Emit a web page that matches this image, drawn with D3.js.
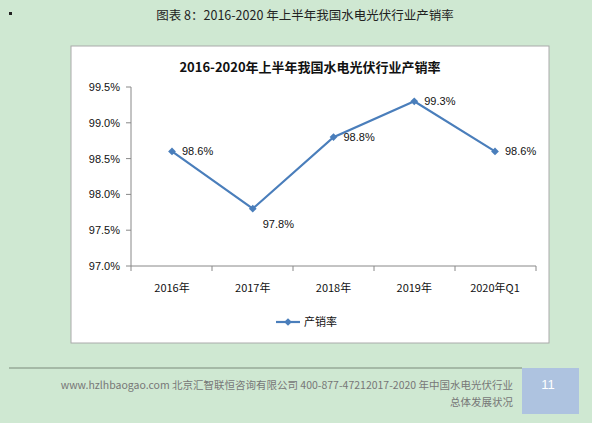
<!DOCTYPE html>
<html lang="zh">
<head>
<meta charset="utf-8">
<script src="https://cdn.jsdelivr.net/npm/d3@7"></script>
<style>
body { margin: 0; background: #cfe8d2; }
svg text { font-family: "Liberation Sans", "Noto Sans CJK SC", sans-serif; }
</style>
</head>
<body>
<script>
// data
var categories = ["2016年", "2017年", "2018年", "2019年", "2020年Q1"];
var rates = [98.6, 97.8, 98.8, 99.3, 98.6];
var yTicks = [97.0, 97.5, 98.0, 98.5, 99.0, 99.5];

var w = 592, h = 423;
var svg = d3.select("body").append("svg").attr("width", w).attr("height", h);
var cjk = "'Noto Sans CJK SC', sans-serif";

// page title
svg.append("rect").attr("x", 9).attr("y", 12).attr("width", 3).attr("height", 3).attr("fill", "#222");
svg.append("text").attr("x", 305).attr("y", 20).attr("text-anchor", "middle")
    .attr("font-size", 12.5).attr("fill", "#222").style("font-family", cjk)
    .text("图表 8：2016-2020 年上半年我国水电光伏行业产销率");

// chart box
svg.append("rect").attr("x", 71).attr("y", 46).attr("width", 478).attr("height", 297)
    .attr("fill", "#fff").attr("stroke", "#aaa");
svg.append("text").attr("x", 310).attr("y", 72).attr("text-anchor", "middle")
    .attr("font-size", 13).attr("font-weight", "bold").attr("fill", "#111").style("font-family", cjk)
    .text("2016-2020年上半年我国水电光伏行业产销率");

var x = d3.scalePoint().domain(categories).range([172, 495]);
var y = d3.scaleLinear().domain([97, 99.5]).range([266, 87]);

var g = svg.append("g");
// y axis
g.append("line").attr("x1", 131).attr("x2", 131).attr("y1", y(99.5)).attr("y2", y(97)).attr("stroke", "#888");
yTicks.forEach(function(t) {
    g.append("line").attr("x1", 126).attr("x2", 131).attr("y1", y(t)).attr("y2", y(t)).attr("stroke", "#888");
    g.append("text").attr("x", 120).attr("y", y(t) + 4).attr("text-anchor", "end")
        .attr("font-size", 11).attr("fill", "#111").text(t.toFixed(1) + "%");
});
// x axis
g.append("line").attr("x1", 131).attr("x2", 536).attr("y1", y(97)).attr("y2", y(97)).attr("stroke", "#888");
d3.range(6).forEach(function(i) {
    var xx = 131 + i * 81;
    g.append("line").attr("x1", xx).attr("x2", xx).attr("y1", y(97)).attr("y2", y(97) + 5).attr("stroke", "#888");
});
categories.forEach(function(c) {
    g.append("text").attr("x", x(c)).attr("y", 292).attr("text-anchor", "middle")
        .attr("font-size", 11).attr("fill", "#111").style("font-family", cjk).text(c);
});

// line
var line = d3.line().x(function(d, i) { return x(categories[i]); }).y(function(d) { return y(d); });
g.append("path").datum(rates).attr("d", line).attr("fill", "none").attr("stroke", "#4a7ebb").attr("stroke-width", 2.2);
var diamond = d3.symbol().type(d3.symbolSquare).size(30);
rates.forEach(function(d, i) {
    g.append("path").attr("d", diamond).attr("transform", "translate(" + x(categories[i]) + "," + y(d) + ") rotate(45)").attr("fill", "#4a7ebb");
    g.append("text").attr("x", x(categories[i]) + 10).attr("y", y(d) + (i == 1 ? 19 : 4))
        .attr("font-size", 11).attr("fill", "#111").text(d.toFixed(1) + "%");
});

// legend
g.append("line").attr("x1", 276).attr("x2", 300).attr("y1", 322).attr("y2", 322).attr("stroke", "#4a7ebb").attr("stroke-width", 2.2);
g.append("path").attr("d", diamond).attr("transform", "translate(288,322) rotate(45)").attr("fill", "#4a7ebb");
g.append("text").attr("x", 304).attr("y", 326).attr("font-size", 11).attr("fill", "#111").style("font-family", cjk).text("产销率");

// footer
svg.append("line").attr("x1", 9).attr("x2", 522).attr("y1", 368).attr("y2", 368).attr("stroke", "#7a8a7a");
svg.append("rect").attr("x", 522).attr("y", 368).attr("width", 57).attr("height", 46).attr("fill", "#aec3e0");
svg.append("text").attr("x", 548).attr("y", 389).attr("text-anchor", "middle").attr("font-size", 13).attr("fill", "#fff").text("11");
svg.append("text").attr("x", 513).attr("y", 389).attr("text-anchor", "end").attr("font-size", 10.5).attr("fill", "#777").style("font-family", cjk)
    .text("www.hzlhbaogao.com 北京汇智联恒咨询有限公司  400-877-47212017-2020 年中国水电光伏行业");
svg.append("text").attr("x", 513).attr("y", 406).attr("text-anchor", "end").attr("font-size", 10.5).attr("fill", "#777").style("font-family", cjk)
    .text("总体发展状况");
</script>
</body>
</html>
